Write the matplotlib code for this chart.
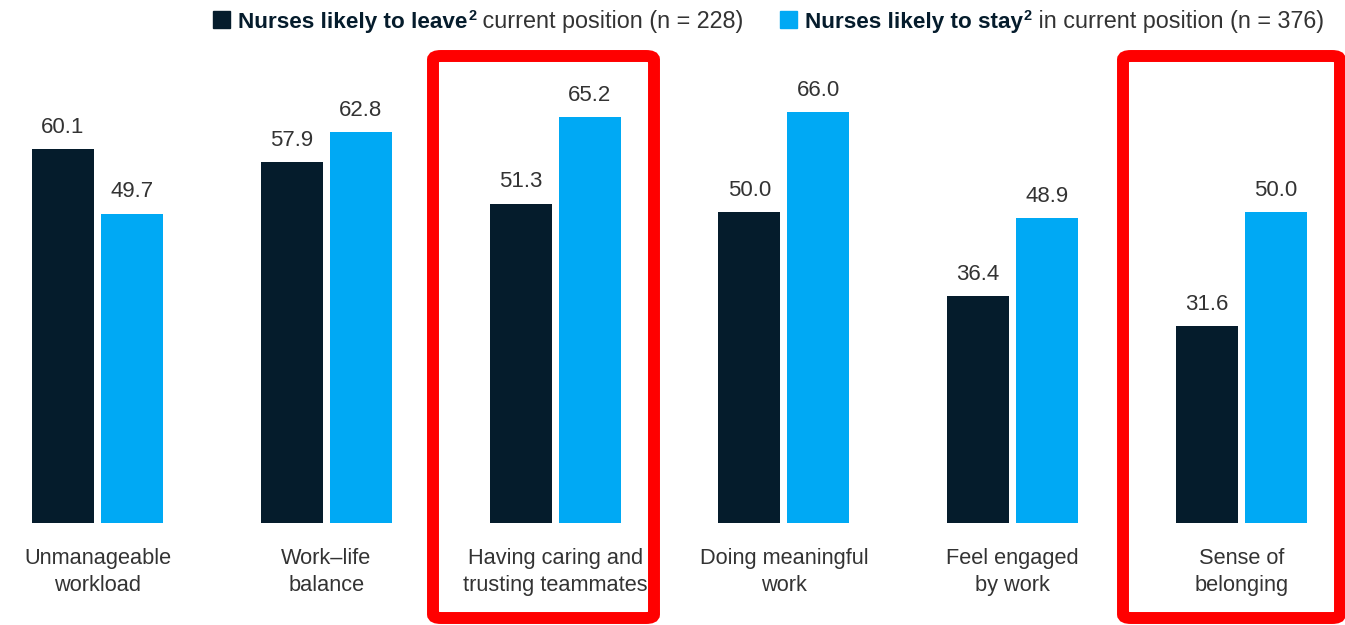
import matplotlib
matplotlib.use("Agg")
import matplotlib.pyplot as plt
from matplotlib.patches import FancyBboxPatch
import numpy as np

categories = ["Unmanageable\nworkload", "Work\u2013life\nbalance", "Having caring and\ntrusting teammates",
              "Doing meaningful\nwork", "Feel engaged\nby work", "Sense of\nbelonging"]
leave_values = [60.1, 57.9, 51.3, 50.0, 36.4, 31.6]
stay_values = [49.7, 62.8, 65.2, 66.0, 48.9, 50.0]
legend_leave = ("Nurses likely to leave", "2", " current position (n = 228)")
legend_stay = ("Nurses likely to stay", "2", " in current position (n = 376)")

DARK = "#051C2C"
LIGHT = "#00A9F4"
TXT = "#333333"
FONT = "Liberation Sans"

W, H = 1345, 625
fig = plt.figure(figsize=(W / 100, H / 100), dpi=100)
ax = fig.add_axes([0, 0, 1, 1])
ax.set_axis_off()

sp = 228.8
x0px = 97.5
ax.set_xlim(-x0px / sp, (W - x0px) / sp)
ppu = 6.227
base = 523
ax.set_ylim((base - H) / ppu, base / ppu)

x = np.arange(len(categories))
bw = 62 / sp
off = 34.5 / sp
b1 = ax.bar(x - off, leave_values, width=bw, color=DARK)
b2 = ax.bar(x + off, stay_values, width=bw, color=LIGHT)

for bars, vals in ((b1, leave_values), (b2, stay_values)):
    for r, v in zip(bars, vals):
        ax.annotate(f"{v:.1f}", (r.get_x() + r.get_width() / 2, v), xytext=(0, 8),
                    textcoords="offset points", ha="center", va="bottom",
                    fontsize=16, color=TXT, family=FONT)

for xi, c in zip(x, categories):
    ax.text(xi, (base - 548) / ppu, c, ha="center", va="top", fontsize=15.7,
            color=TXT, family=FONT, linespacing=1.4)

def fx(px):
    return px / W

def fy(py):
    return 1 - py / H

for (l, r) in ((433, 654), (1123, 1340)):
    t, b = 56, 618
    p = FancyBboxPatch((fx(l), fy(b)), fx(r - l), (b - t) / H,
                       boxstyle="round,pad=0,rounding_size=0.006",
                       transform=fig.transFigure, fill=False,
                       edgecolor="#FF0000", linewidth=8.6, zorder=5)
    fig.add_artist(p)

fig.canvas.draw()
renderer = fig.canvas.get_renderer()

def legend_item(sq_x, color, parts):
    fig.add_artist(plt.Rectangle((fx(sq_x), fy(28)), 17 / W, 17 / H,
                                 transform=fig.transFigure, color=color))
    cur = sq_x + 25
    yb = fy(28)
    bold, sup, rest = parts
    t1 = fig.text(fx(cur), yb, bold, fontsize=16.2, fontweight="bold",
                  color=DARK, family=FONT, va="baseline")
    e = t1.get_window_extent(renderer)
    cur = e.x1 + 1
    t2 = fig.text(cur / W, fy(28) + 8 / H, sup, fontsize=10.5, fontweight="bold",
                  color=DARK, family=FONT, va="baseline")
    e = t2.get_window_extent(renderer)
    cur = e.x1
    fig.text(cur / W, yb, rest, fontsize=16.8, color=TXT, family=FONT, va="baseline")

legend_item(213, DARK, legend_leave)
legend_item(780, LIGHT, legend_stay)

fig.savefig("out.png", dpi=100)
